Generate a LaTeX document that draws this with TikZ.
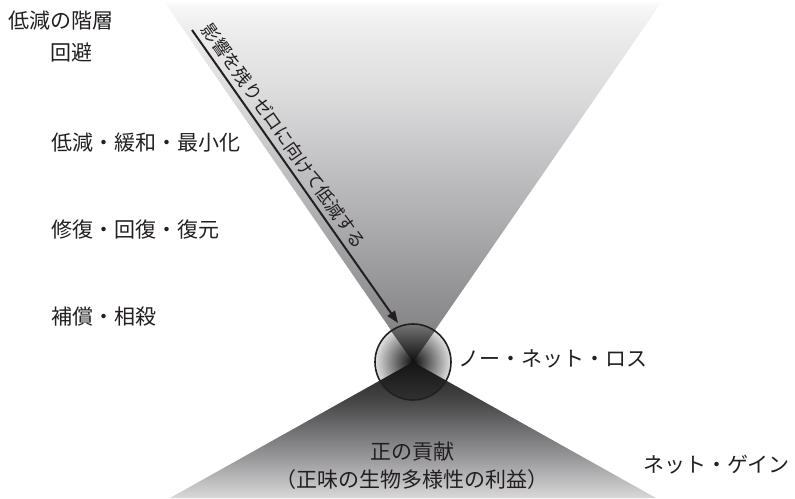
\documentclass[tikz,border=0pt]{standalone}
\usepackage{fontspec}
\setmainfont{Noto Sans CJK JP}
\usetikzlibrary{arrows.meta}
\definecolor{ink}{HTML}{231F20}
\pgfdeclareverticalshading{funnelshade}{100bp}{%
 rgb(0bp)=(0.33,0.33,0.34);
 rgb(25bp)=(0.33,0.33,0.34);
 rgb(30.2bp)=(0.53,0.53,0.54);
 rgb(47.5bp)=(0.71,0.71,0.72);
 rgb(61.2bp)=(0.855,0.855,0.86);
 rgb(70.9bp)=(0.93,0.93,0.935);
 rgb(73.9bp)=(0.965,0.965,0.965);
 rgb(75bp)=(1,1,1);
 rgb(100bp)=(1,1,1)}
\pgfdeclareverticalshading{baseshade}{100bp}{%
 rgb(0bp)=(0.85,0.85,0.85);
 rgb(25bp)=(0.85,0.85,0.85);
 rgb(39bp)=(0.61,0.61,0.62);
 rgb(50bp)=(0.44,0.44,0.45);
 rgb(61bp)=(0.27,0.27,0.27);
 rgb(75bp)=(0.12,0.12,0.12);
 rgb(100bp)=(0.12,0.12,0.12)}
\begin{document}
\begin{tikzpicture}[x=1pt,y=-1pt,
  lbl/.style={text=ink, font=\fontsize{21}{25}\selectfont, inner sep=0pt},
  slbl/.style={text=ink, font=\fontsize{18}{22}\selectfont, inner sep=0pt},
  arrowline/.style={draw=ink, line width=2pt, -{Triangle[length=12pt,width=9pt]}}]
\useasboundingbox (0,0) rectangle (795,498);
\coordinate (C) at (413,362);
% funnel
\shade[shading=funnelshade] (163,0) -- (663,0) -- (C) -- cycle;
% base triangle
\shade[shading=baseshade] (C) -- (170,498) -- (656,498) -- cycle;
% circle interior
\fill[white] (C) circle[radius=38pt];
\begin{scope}
  \clip (C) circle[radius=38pt];
  \shade[inner color=black!95, outer color=black!12] (C) circle[radius=38pt];
  \shade[top color=black!52, bottom color=black!95] (384.8,322) -- (441.2,322) -- (C) -- cycle;
  \shade[top color=black!92, bottom color=black!80] (C) -- (341.5,402) -- (484.5,402) -- cycle;
\end{scope}
\draw[ink, line width=1.6pt] (C) circle[radius=38pt];
% arrow
\coordinate (arrS) at (192,30);
\coordinate (arrE) at (398,323);
\draw[arrowline] (arrS) -- (arrE);
\node[slbl, rotate=-54.9] (effect) at (284,136) {影響を残りゼロに向けて低減する};
% left labels
\node[lbl, anchor=west] (title) at (8,21) {低減の階層};
\node[lbl, anchor=west] (avoid) at (50,53) {回避};
\node[lbl, anchor=west] (reduce) at (51,143) {低減・緩和・最小化};
\node[lbl, anchor=west] (restore) at (51,230) {修復・回復・復元};
\node[lbl, anchor=west] (offset) at (51,317) {補償・相殺};
% right labels
\node[lbl, anchor=west] (noloss) at (458,359) {ノー・ネット・ロス};
\node[lbl, anchor=west] (gain) at (643,465) {ネット・ゲイン};
% bottom labels
\node[lbl] (contrib) at (412,452) {正の貢献};
\node[lbl] (benefit) at (412,480) {（正味の生物多様性の利益）};
\end{tikzpicture}
\end{document}
